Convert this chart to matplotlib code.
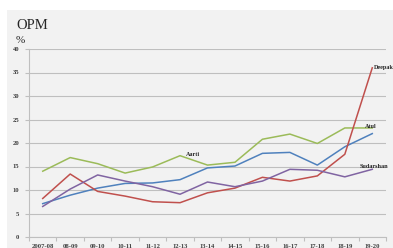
import matplotlib
matplotlib.use("Agg")
import matplotlib.pyplot as plt
from matplotlib.patches import Rectangle

years = ["2007-08", "08-09", "09-10", "10-11", "11-12", "12-13", "13-14",
         "14-15", "15-16", "16-17", "17-18", "18-19", "19-20"]
aarti = [14.0, 16.9, 15.6, 13.6, 14.9, 17.3, 15.3, 15.9, 20.8, 21.9, 19.9, 23.2, 23.2]
atul = [7.1, 8.9, 10.4, 11.4, 11.5, 12.2, 14.7, 15.1, 17.8, 18.0, 15.3, 19.2, 22.0]
deepak = [8.2, 13.4, 9.7, 8.7, 7.5, 7.3, 9.4, 10.4, 12.7, 11.9, 13.0, 17.6, 36.0]
sudarshan = [6.5, 10.2, 13.2, 11.9, 10.7, 9.1, 11.7, 10.7, 11.9, 14.4, 14.2, 12.8, 14.4]

W, H = 393, 248
fig = plt.figure(figsize=(W / 100, H / 100), dpi=100)
fig.patch.set_facecolor("white")
# grey chart panel behind everything
fig.patches.append(Rectangle((7 / W, 0), 1, 1 - 10 / H, transform=fig.transFigure,
                             facecolor="#f2f2f2", edgecolor="none", zorder=-5))

ax = fig.add_axes([29 / W, 1 - 237 / H, 357 / W, 188 / H])
ax.set_facecolor("none")
ax.set_zorder(1)

x = list(range(len(years)))
ax.plot(x, aarti, color="#9bbb59", lw=1.1)
ax.plot(x, atul, color="#4f81bd", lw=1.1)
ax.plot(x, deepak, color="#c0504d", lw=1.1)
ax.plot(x, sudarshan, color="#8064a2", lw=1.1)

lbl = dict(fontsize=4.4, family="Liberation Serif", color="#262626",
           fontweight="bold", clip_on=False, va="center")
ax.text(5.2, aarti[5] + 0.3, "Aarti", **lbl)
ax.text(12.05, deepak[12] + 0.1, "Deepak", **lbl)
ax.text(11.75, atul[12] + 1.5, "Atul", **lbl)
ax.text(11.55, sudarshan[12] + 0.5, "Sudarshan", **lbl)

ax.set_xlim(-0.5, len(years) - 0.5)
ax.set_ylim(0, 40)
ax.set_yticks(range(0, 41, 5))
ax.yaxis.grid(True, color="#bfbfbf", lw=0.8)
ax.set_axisbelow(True)

ax.set_xticks(x)
ax.set_xticklabels(years)
ax.set_xticks([i - 0.5 for i in range(len(years) + 1)], minor=True)
ax.tick_params(axis="x", which="major", length=0, pad=5)
ax.tick_params(axis="x", which="minor", length=3, color="#bfbfbf", width=0.8)
ax.tick_params(axis="y", length=3, color="#bfbfbf", width=0.8, pad=4)
for t in ax.get_xticklabels() + ax.get_yticklabels():
    t.set_fontsize(4.8)
    t.set_family("Liberation Serif")
    t.set_fontweight("bold")
    t.set_color("#404040")

for s in ["top", "right"]:
    ax.spines[s].set_visible(False)
for s in ["left", "bottom"]:
    ax.spines[s].set_color("#bfbfbf")
    ax.spines[s].set_linewidth(0.8)

fig.text(16 / W, 1 - 29 / H, "OPM", fontsize=10.5, family="Liberation Serif", color="#262626")
fig.text(16 / W, 1 - 43 / H, "%", fontsize=8, family="Liberation Serif", color="#262626")

fig.savefig("out.png", dpi=100)
